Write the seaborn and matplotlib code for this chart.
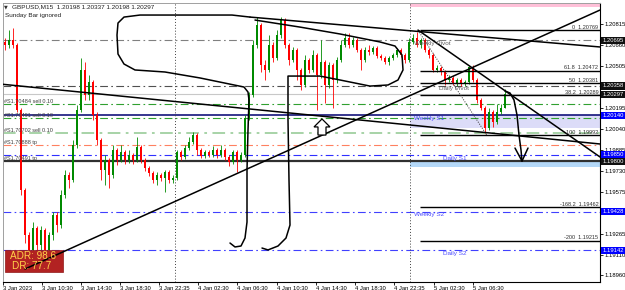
import numpy as np
import pandas as pd
import matplotlib
matplotlib.use("Agg")
import matplotlib.pyplot as plt
import seaborn as sns
from matplotlib.patches import Rectangle, Polygon

# ---------------- data ----------------
symbol_title = "GBPUSD,M15  1.20198 1.20337 1.20198 1.20297"
subtitle = "Sunday Bar ignored"
first_open = 1.20683
closes = [
    1.20660, 1.20697, 1.20660, 1.20180, 1.19589, 1.19256, 1.19146, 1.19308, 1.19182, 1.19293,
    1.19146, 1.19256, 1.19404, 1.19330, 1.19552, 1.19700, 1.19663, 1.19921, 1.20180, 1.20476,
    1.20291, 1.20387, 1.20143, 1.19958, 1.19737, 1.19811, 1.19700, 1.19885, 1.19811, 1.19870,
    1.19811, 1.19848, 1.19811, 1.19907, 1.19811, 1.19752, 1.19715, 1.19663, 1.19700, 1.19678,
    1.19722, 1.19663, 1.19678, 1.19870, 1.19833, 1.19899, 1.19944, 1.19995, 1.19885, 1.19840,
    1.19870, 1.19848, 1.19885, 1.19848, 1.19885, 1.19833, 1.19796, 1.19870, 1.19811, 1.19848,
    1.20121, 1.20291, 1.20660, 1.20808, 1.20513, 1.20476, 1.20660, 1.20564, 1.20734, 1.20845,
    1.20660, 1.20550, 1.20624, 1.20476, 1.20365, 1.20550, 1.20476, 1.20587, 1.20439, 1.20535,
    1.20365, 1.20513, 1.20402, 1.20550, 1.20660, 1.20712, 1.20660, 1.20697, 1.20624, 1.20550,
    1.20624, 1.20609, 1.20638, 1.20579, 1.20564, 1.20535, 1.20564, 1.20587, 1.20624, 1.20587,
    1.20550, 1.20683, 1.20712, 1.20660, 1.20697, 1.20624, 1.20587, 1.20476, 1.20491, 1.20461,
    1.20402, 1.20417, 1.20380, 1.20402, 1.20372, 1.20387, 1.20498, 1.20402, 1.20254, 1.20195,
    1.20047, 1.20165, 1.20091, 1.20165, 1.20198, 1.20297]
highs = [
    1.20712, 1.20771, 1.20786, 1.20675, 1.20195, 1.19604, 1.19279, 1.19352, 1.19323, 1.19323,
    1.19308, 1.19279, 1.19426, 1.19426, 1.19589, 1.19737, 1.19722, 1.19958, 1.20217, 1.20564,
    1.20535, 1.20439, 1.20402, 1.20165, 1.19973, 1.19848, 1.19825, 1.19921, 1.19899, 1.19921,
    1.19885, 1.19885, 1.19862, 1.19981, 1.19921, 1.19825, 1.19766, 1.19729, 1.19722, 1.19715,
    1.19737, 1.19737, 1.19700, 1.19885, 1.19885, 1.19921, 1.19981, 1.20018, 1.20010, 1.19899,
    1.19885, 1.19885, 1.19914, 1.19899, 1.19921, 1.19899, 1.19848, 1.19885, 1.19885, 1.19870,
    1.20143, 1.20313, 1.20697, 1.20867, 1.20823, 1.20550, 1.20734, 1.20683, 1.20771, 1.20867,
    1.20860, 1.20675, 1.20646, 1.20638, 1.20491, 1.20587, 1.20564, 1.20624, 1.20601, 1.20697,
    1.20550, 1.20535, 1.20527, 1.20572, 1.20697, 1.20749, 1.20749, 1.20720, 1.20712, 1.20638,
    1.20646, 1.20660, 1.20653, 1.20653, 1.20594, 1.20579, 1.20579, 1.20601, 1.20638, 1.20638,
    1.20601, 1.20712, 1.20742, 1.20757, 1.20712, 1.20712, 1.20638, 1.20601, 1.20513, 1.20505,
    1.20476, 1.20439, 1.20431, 1.20417, 1.20417, 1.20402, 1.20505, 1.20513, 1.20417, 1.20269,
    1.20210, 1.20195, 1.20180, 1.20224, 1.20224, 1.20337]
lows = [
    1.20624, 1.20638, 1.20638, 1.20165, 1.19552, 1.19197, 1.19057, 1.19109, 1.19086, 1.19146,
    1.19027, 1.19109, 1.19219, 1.19279, 1.19308, 1.19530, 1.19604, 1.19648, 1.19899, 1.20165,
    1.20254, 1.20254, 1.20106, 1.19921, 1.19663, 1.19626, 1.19604, 1.19678, 1.19774, 1.19796,
    1.19781, 1.19788, 1.19781, 1.19796, 1.19788, 1.19729, 1.19692, 1.19641, 1.19626, 1.19655,
    1.19574, 1.19641, 1.19641, 1.19663, 1.19811, 1.19818, 1.19885, 1.19929, 1.19848, 1.19825,
    1.19825, 1.19833, 1.19833, 1.19825, 1.19833, 1.19811, 1.19766, 1.19781, 1.19722, 1.19796,
    1.19833, 1.20106, 1.20276, 1.20638, 1.20461, 1.20402, 1.20461, 1.20535, 1.20550, 1.20712,
    1.20638, 1.20513, 1.20535, 1.20402, 1.20328, 1.20350, 1.20454, 1.20461, 1.20180, 1.20417,
    1.20232, 1.20343, 1.20195, 1.20380, 1.20535, 1.20646, 1.20638, 1.20646, 1.20609, 1.20476,
    1.20535, 1.20587, 1.20594, 1.20564, 1.20550, 1.20520, 1.20513, 1.20550, 1.20572, 1.20572,
    1.20527, 1.20535, 1.20668, 1.20646, 1.20638, 1.20609, 1.20564, 1.20461, 1.20461, 1.20439,
    1.20365, 1.20387, 1.20365, 1.20357, 1.20357, 1.20357, 1.20372, 1.20387, 1.20232, 1.20180,
    1.20010, 1.20032, 1.20055, 1.20077, 1.20151, 1.20198]

time_labels = ["3 Jan 2023", "3 Jan 10:30", "3 Jan 14:30", "3 Jan 18:30", "3 Jan 22:35",
               "4 Jan 02:30", "4 Jan 06:30", "4 Jan 10:30", "4 Jan 14:30", "4 Jan 18:30",
               "4 Jan 22:35", "5 Jan 02:30", "5 Jan 06:30"]
time_label_bars = [-0.5, 9.25, 19, 28.75, 38.5, 48.25, 58, 68, 77.75, 87.5, 97.25, 107.25, 117]
day_separator_bars = [42.5, 101.25]

price_ticks = [1.20815, 1.20660, 1.20505, 1.20350, 1.20195, 1.20040, 1.19885,
               1.19730, 1.19575, 1.19420, 1.19265, 1.19110, 1.18960]
price_tick_labels = ["1.20815", "1.20660", "1.20505", "", "1.20195", "1.20040", "1.19885",
                     "1.19730", "1.19575", "", "1.19265", "1.19110", "1.18960"]
marker_prices = [1.20695, 1.20358, 1.20297, 1.20140, 1.19850, 1.19800, 1.19428, 1.19142]
marker_kinds = ["k", "k", "k", "b", "b", "k", "b", "b"]

weekly_pivot, daily_pivot = 1.20695, 1.20358
weekly_s1, daily_s1 = 1.20140, 1.19800
weekly_s2, daily_s2 = 1.19428, 1.19142
bid_price = 1.20297

order_prices = [1.20224, 1.20121, 1.20010, 1.19922, 1.19850]
order_kinds = ["sell", "sell", "sell2", "tp", "tp2"]
order_labels = ["#S1.70484 sell 0.10", "#S1.70491 sell 0.10", "#S1.70702 sell 0.10",
                "#S1.70888 tp", "#S1.70491 tp"]

fib_prices = [1.20769, 1.20472, 1.20381, 1.20289, 1.19992, 1.19462, 1.19215]
fib_names = ["0", "61.8", "50", "38.2", "100", "-168.2", "-200"]
fib_start_bar = 103.75

adr_value, dr_value = "98.6", "77.7"

# drawings anchored on (bar, price) like chart objects
trend_lines = [
    [(61.25, 1.20867), (148.75, 1.20646)],
    [(-0.5, 1.20370), (148.75, 1.19929)],
    [(5.0, 1.19005), (148.75, 1.20919)],
    [(103.25, 1.20771), (148.75, 1.19833)],
]
fib_base = [(103.25, 1.20769), (120.5, 1.19992)]
freehand_1 = [(56.25, 1.19197), (57.5, 1.19168), (59, 1.19175), (60, 1.19234), (60.5, 1.19352),
              (60.5, 1.19737), (60.75, 1.20032), (61, 1.20254), (60.75, 1.20313), (59.75, 1.20350),
              (48.75, 1.20417), (40, 1.20461), (32.5, 1.20476), (29.75, 1.20520), (28.25, 1.20594),
              (28, 1.20734), (28.25, 1.20823), (29.75, 1.20867), (33.75, 1.20882), (56.75, 1.20882),
              (61.25, 1.20867)]
freehand_2 = [(62.5, 1.20845), (73.75, 1.20793), (83.75, 1.20742), (93.75, 1.20683),
              (97.5, 1.20653), (99.25, 1.20587), (99.5, 1.20476), (98.25, 1.20402),
              (95.75, 1.20365), (91.25, 1.20357), (83.75, 1.20402), (78.75, 1.20431),
              (70.75, 1.20431), (70.75, 1.20106), (71, 1.19663), (71.25, 1.19330),
              (70.25, 1.19234), (68.25, 1.19175), (65.75, 1.19146), (64.25, 1.19160)]
arrow_path = [(125, 1.20320), (126.25, 1.20306), (127.25, 1.20254), (128, 1.20143),
              (128.5, 1.19995), (129, 1.19885), (129.25, 1.19803)]
arrow_head = [(127.5, 1.19899), (129.25, 1.19803), (130.75, 1.19899)]
hollow_arrow = [(79.25, 1.20114), (81.25, 1.20055), (80.25, 1.20055), (80.25, 1.19995),
                (78.25, 1.19995), (78.25, 1.20055), (77.25, 1.20055)]

# ---------------- figure ----------------
sns.set_theme(style="white")
plt.rcParams["font.family"] = ["Liberation Sans", "DejaVu Sans"]

W, H = 625, 290
fig = plt.figure(figsize=(W / 100, H / 100), dpi=100)
fig.patch.set_facecolor("white")
ax = fig.add_axes([3 / W, 8 / H, 597 / W, 279 / H])
ax.set_facecolor("white")
XMIN, XMAX = -0.5, 148.75
YMIN, YMAX = 1.18909, 1.20971
ax.set_xlim(XMIN, XMAX)
ax.set_ylim(YMIN, YMAX)

df = pd.DataFrame({"close": closes, "high": highs, "low": lows})
df["open"] = [first_open] + closes[:-1]
df["bar"] = np.arange(len(df))
up = df["close"] >= df["open"]
col = np.where(up, "#008a00", "#ff0000")

# bands
ax.add_patch(Rectangle((day_separator_bars[1], 1.20047), XMAX - day_separator_bars[1],
                       weekly_s1 - 1.20047, color="#dcdcf8", lw=0, zorder=1))
ax.add_patch(Rectangle((day_separator_bars[1], 1.19757), XMAX - day_separator_bars[1],
                       daily_s1 - 1.19757, color="#b4d8f8", lw=0, zorder=1))
ax.add_patch(Rectangle((day_separator_bars[1], 1.20941), XMAX - day_separator_bars[1],
                       YMAX - 1.20941, color="#ffc0d8", lw=0, zorder=1))

dd = (0, (7, 3, 1.5, 3))
ax.axhline(weekly_pivot, color="#808080", lw=0.8, ls=dd, zorder=2)
ax.axhline(daily_pivot, color="#505050", lw=0.8, ls=dd, zorder=2)
ax.axhline(bid_price, color="#c8c8c8", lw=0.8, zorder=2)
ax.axhline(weekly_s1, color="#000070", lw=1.1, zorder=2)
ax.axhline(daily_s1, color="#303030", lw=1.6, zorder=2)
ax.axhline(weekly_s2, color="#4040ff", lw=0.8, ls=dd, zorder=2)
ax.axhline(daily_s2, color="#4040ff", lw=0.8, ls=dd, zorder=2)
order_colors = {"sell": "#30a030", "sell2": "#a0d0a0", "tp": "#ff8060", "tp2": "#3030ff"}
order_lw = {"sell": 0.8, "sell2": 1.3, "tp": 0.8, "tp2": 0.8}
for p, k in zip(order_prices, order_kinds):
    ax.axhline(p, color=order_colors[k], lw=order_lw[k], ls=dd, zorder=2)
label_anchor = [order_prices[0], order_prices[1], order_prices[2], order_prices[3], daily_s1]
for p, t in zip(label_anchor, order_labels):
    ax.text(-0.25, p + 0.00003, t, fontsize=4, color="#404040", va="bottom", ha="left", zorder=6)

for b in day_separator_bars:
    ax.axvline(b, color="#404040", lw=0.7, ls=(0, (1, 2)), zorder=2)

# candles
ax.vlines(df["bar"], np.minimum(df["low"], np.minimum(df["open"], df["close"])),
          np.maximum(df["high"], np.maximum(df["open"], df["close"])),
          colors=col, lw=0.6, zorder=3)
body_h = np.maximum((df["close"] - df["open"]).abs(), 0.00002)
ax.bar(df["bar"], body_h, bottom=np.minimum(df["open"], df["close"]), width=0.55,
       color=col, linewidth=0, zorder=3)

# fib levels
for p, n in zip(fib_prices, fib_names):
    ax.hlines(p, fib_start_bar, XMAX, color="black", lw=1.0, zorder=4)
    ax.text(148.3, p + 0.00002, f"{n}  {p:.5f}", fontsize=4, ha="right", va="bottom",
            color="#303030", zorder=6)
sns.lineplot(x=[q[0] for q in fib_base], y=[q[1] for q in fib_base], ax=ax, color="#303030",
             lw=0.7, linestyle=(0, (1, 1.5)), estimator=None, sort=False, zorder=4)

# trend lines & freehand drawings
for ln in trend_lines + [freehand_1, freehand_2, arrow_path, arrow_head]:
    sns.lineplot(x=[q[0] for q in ln], y=[q[1] for q in ln], ax=ax, color="black", lw=1.1,
                 estimator=None, sort=False, zorder=5)
ax.add_patch(Polygon(hollow_arrow, closed=True, fc="white", ec="black", lw=0.9, zorder=5))

# pivot labels
ax.text(102.25, weekly_pivot - 0.00003, "Weekly Pivot", fontsize=4.6, color="#606060", va="top", zorder=6)
ax.text(108.5, daily_pivot - 0.00003, "Daily Pivot", fontsize=4.6, color="#606060", va="top", zorder=6)
ax.text(102.25, weekly_s1 - 0.00003, "Weekly S1", fontsize=4.6, color="#4a4aff", va="top", zorder=6)
ax.text(109.5, daily_s1 + 0.00002, "Daily S1", fontsize=4.6, color="#4a4aff", va="bottom", zorder=6)
ax.text(102.25, weekly_s2 - 0.00003, "Weekly S2", fontsize=4.6, color="#4a4aff", va="top", zorder=6)
ax.text(109.5, daily_s2 - 0.00003, "Daily S2", fontsize=4.6, color="#4a4aff", va="top", zorder=6)

# axes styling
ax.yaxis.tick_right()
ax.set_yticks(price_ticks)
ax.set_yticklabels(price_tick_labels)
ax.set_xticks(time_label_bars)
ax.set_xticklabels(time_labels, ha="left")
ax.tick_params(axis="both", labelsize=4.2, length=2, width=0.6, pad=1, colors="black",
               direction="out")
ax.tick_params(axis="y", left=False, right=True)
ax.tick_params(axis="x", bottom=True)
for s in ["left", "top"]:
    ax.spines[s].set_color("#a0a0a0")
    ax.spines[s].set_linewidth(0.7)
for s in ["right", "bottom"]:
    ax.spines[s].set_color("black")
    ax.spines[s].set_linewidth(0.8)
ax.set_xlabel("")
ax.set_ylabel("")

for p, k in zip(marker_prices, marker_kinds):
    ax.annotate(f"{p:.5f}", xy=(1, p), xycoords=("axes fraction", "data"), xytext=(1.6, 0),
                textcoords="offset points", va="center", ha="left", fontsize=4.2, color="white",
                bbox=dict(boxstyle="square,pad=0.2", fc="#0000ff" if k == "b" else "#101010",
                          ec="none"), annotation_clip=False, zorder=7)

# title texts
fig.text(4 / W, 1 - 7 / H, "▼", fontsize=3.5, color="#303030", va="center", ha="left",
         family=["DejaVu Sans"])
fig.text(12 / W, 1 - 7 / H, symbol_title, fontsize=4.6, color="#202020", va="center", ha="left")
fig.text(5 / W, 1 - 16 / H, subtitle, fontsize=4.6, color="#202020", va="center", ha="left")

# ADR box
ax.add_patch(Rectangle((5 / W, 1 - 272 / H), 58 / W, 22 / H, transform=fig.transFigure,
                       fc="#b22222", ec="#901818", lw=0.5, zorder=4.5, clip_on=False))
fig.text(33 / W, 1 - 256 / H, f"ADR: {adr_value}", fontsize=7.2, color="#ffd24a",
         ha="center", va="center")
fig.text(32 / W, 1 - 266 / H, f"DR: {dr_value}", fontsize=7.2, color="#ffd24a",
         ha="center", va="center")

fig.savefig("out.png", dpi=100, facecolor="white")
